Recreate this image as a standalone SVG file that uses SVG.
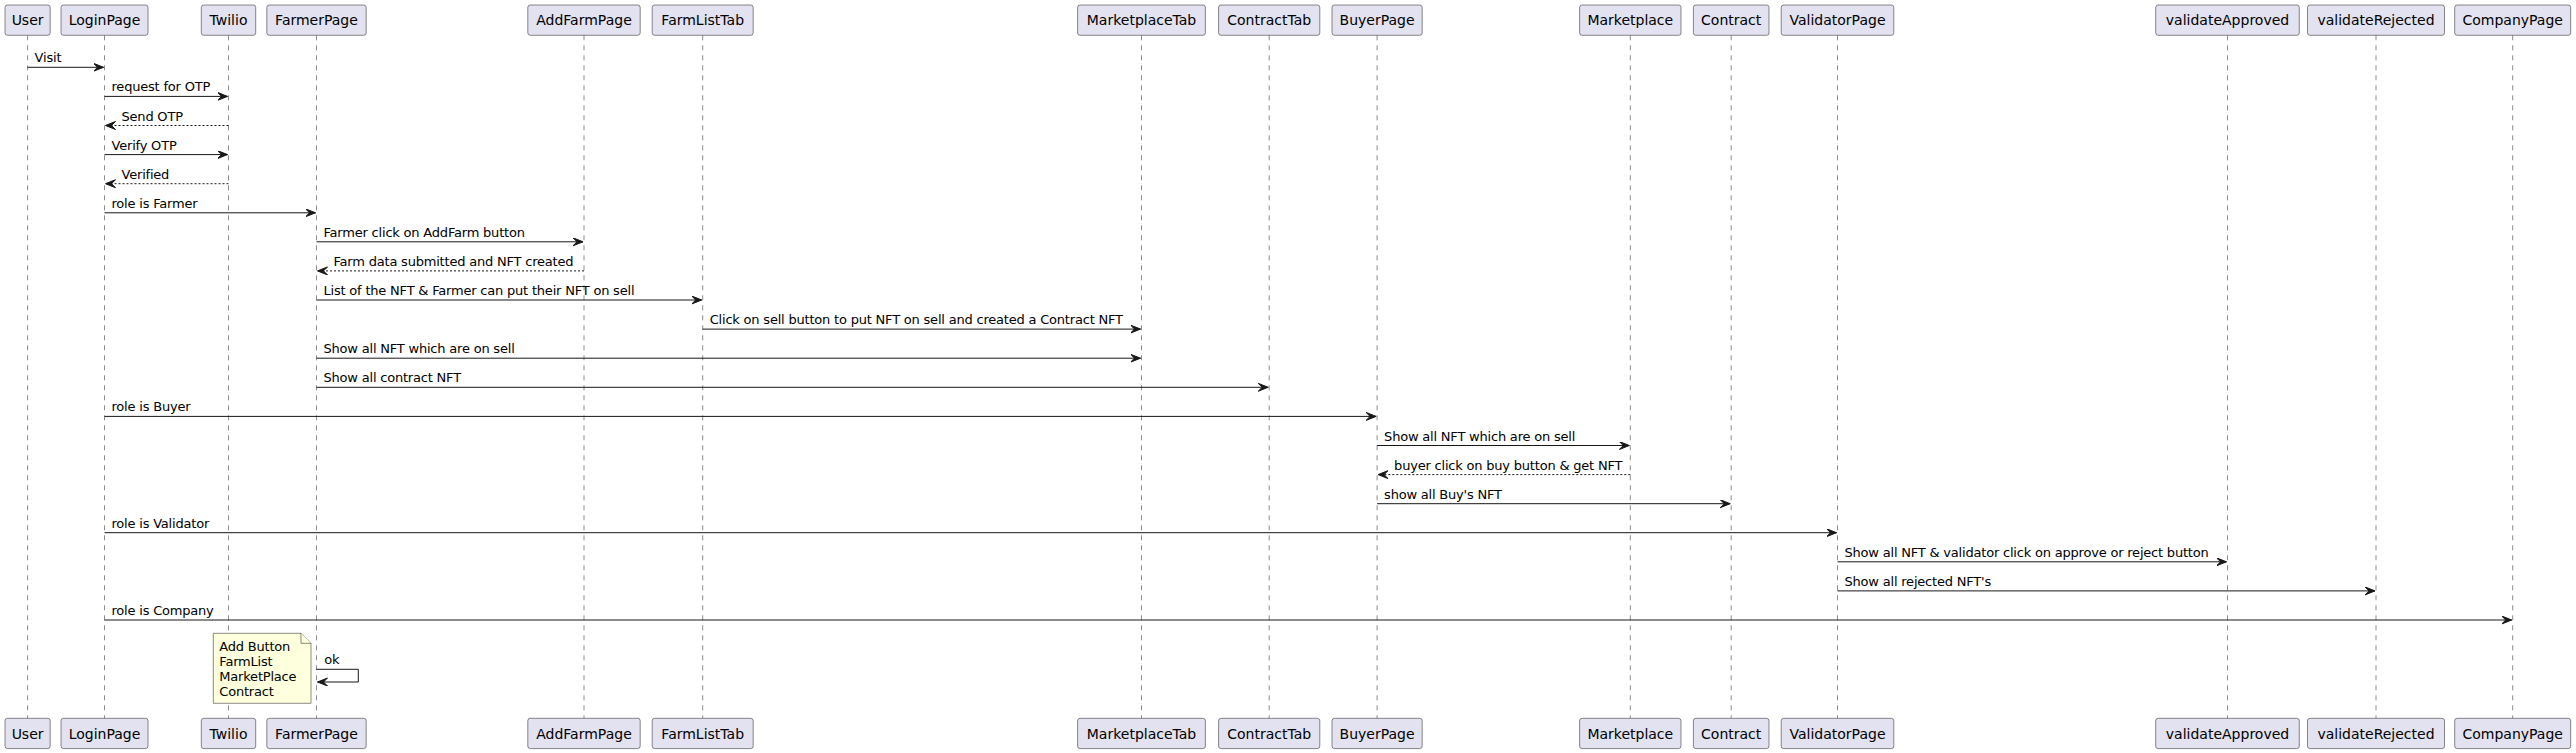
<svg xmlns="http://www.w3.org/2000/svg" width="2576" height="753" viewBox="0 0 2576 753">
<defs>
<style>
.box{fill:#E2E2F0;stroke:#181818;stroke-width:0.5;}
.pt{font-family:"DejaVu Sans",sans-serif;font-size:14px;fill:#000;text-anchor:middle;}
.life{stroke:#181818;stroke-width:0.5;stroke-dasharray:5,5;fill:none;}
.msg{stroke:#181818;stroke-width:1;fill:none;marker-end:url(#ah);}
.ret{stroke-dasharray:2,2;}
.lbl{font-family:"DejaVu Sans",sans-serif;font-size:13px;letter-spacing:-0.2px;fill:#000;}
.note{fill:#FEFFDD;stroke:#181818;stroke-width:0.5;}
</style>
<marker id="ah" markerUnits="userSpaceOnUse" markerWidth="11" markerHeight="9" refX="10" refY="4" orient="auto" viewBox="0 0 11 9">
<path d="M0,0 L10,4 L0,8 L4,4 Z" fill="#181818" stroke="#181818" stroke-width="1"/>
</marker>
</defs>
<rect width="2576" height="753" fill="#FFFFFF"/>

<g id="lifelines">
<line class="life" x1="27.6" y1="35.3" x2="27.6" y2="718.3"/>
<line class="life" x1="104.5" y1="35.3" x2="104.5" y2="718.3"/>
<line class="life" x1="228.5" y1="35.3" x2="228.5" y2="718.3"/>
<line class="life" x1="316.5" y1="35.3" x2="316.5" y2="718.3"/>
<line class="life" x1="584" y1="35.3" x2="584" y2="718.3"/>
<line class="life" x1="702.7" y1="35.3" x2="702.7" y2="718.3"/>
<line class="life" x1="1141.5" y1="35.3" x2="1141.5" y2="718.3"/>
<line class="life" x1="1269.2" y1="35.3" x2="1269.2" y2="718.3"/>
<line class="life" x1="1377.1" y1="35.3" x2="1377.1" y2="718.3"/>
<line class="life" x1="1630.3" y1="35.3" x2="1630.3" y2="718.3"/>
<line class="life" x1="1731.2" y1="35.3" x2="1731.2" y2="718.3"/>
<line class="life" x1="1837.5" y1="35.3" x2="1837.5" y2="718.3"/>
<line class="life" x1="2227.5" y1="35.3" x2="2227.5" y2="718.3"/>
<line class="life" x1="2376" y1="35.3" x2="2376" y2="718.3"/>
<line class="life" x1="2512.7" y1="35.3" x2="2512.7" y2="718.3"/>
</g>

<g id="User"><rect class="box" x="5" y="5" width="45.2" height="30.3" rx="2.5"/><text class="pt" x="27.6" y="25.3">User</text><rect class="box" x="5" y="718.3" width="45.2" height="30.3" rx="2.5"/><text class="pt" x="27.6" y="738.6">User</text></g>
<g id="LoginPage"><rect class="box" x="61" y="5" width="87" height="30.3" rx="2.5"/><text class="pt" x="104.5" y="25.3">LoginPage</text><rect class="box" x="61" y="718.3" width="87" height="30.3" rx="2.5"/><text class="pt" x="104.5" y="738.6">LoginPage</text></g>
<g id="Twilio"><rect class="box" x="201.3" y="5" width="54.4" height="30.3" rx="2.5"/><text class="pt" x="228.5" y="25.3">Twilio</text><rect class="box" x="201.3" y="718.3" width="54.4" height="30.3" rx="2.5"/><text class="pt" x="228.5" y="738.6">Twilio</text></g>
<g id="FarmerPage"><rect class="box" x="266.8" y="5" width="99.4" height="30.3" rx="2.5"/><text class="pt" x="316.5" y="25.3">FarmerPage</text><rect class="box" x="266.8" y="718.3" width="99.4" height="30.3" rx="2.5"/><text class="pt" x="316.5" y="738.6">FarmerPage</text></g>
<g id="AddFarmPage"><rect class="box" x="527.8" y="5" width="112.4" height="30.3" rx="2.5"/><text class="pt" x="584" y="25.3">AddFarmPage</text><rect class="box" x="527.8" y="718.3" width="112.4" height="30.3" rx="2.5"/><text class="pt" x="584" y="738.6">AddFarmPage</text></g>
<g id="FarmListTab"><rect class="box" x="652.2" y="5" width="101" height="30.3" rx="2.5"/><text class="pt" x="702.7" y="25.3">FarmListTab</text><rect class="box" x="652.2" y="718.3" width="101" height="30.3" rx="2.5"/><text class="pt" x="702.7" y="738.6">FarmListTab</text></g>
<g id="MarketplaceTab"><rect class="box" x="1077.6" y="5" width="127.8" height="30.3" rx="2.5"/><text class="pt" x="1141.5" y="25.3">MarketplaceTab</text><rect class="box" x="1077.6" y="718.3" width="127.8" height="30.3" rx="2.5"/><text class="pt" x="1141.5" y="738.6">MarketplaceTab</text></g>
<g id="ContractTab"><rect class="box" x="1218.6" y="5" width="101.2" height="30.3" rx="2.5"/><text class="pt" x="1269.2" y="25.3">ContractTab</text><rect class="box" x="1218.6" y="718.3" width="101.2" height="30.3" rx="2.5"/><text class="pt" x="1269.2" y="738.6">ContractTab</text></g>
<g id="BuyerPage"><rect class="box" x="1332" y="5" width="90.2" height="30.3" rx="2.5"/><text class="pt" x="1377.1" y="25.3">BuyerPage</text><rect class="box" x="1332" y="718.3" width="90.2" height="30.3" rx="2.5"/><text class="pt" x="1377.1" y="738.6">BuyerPage</text></g>
<g id="Marketplace"><rect class="box" x="1579.6" y="5" width="101.4" height="30.3" rx="2.5"/><text class="pt" x="1630.3" y="25.3">Marketplace</text><rect class="box" x="1579.6" y="718.3" width="101.4" height="30.3" rx="2.5"/><text class="pt" x="1630.3" y="738.6">Marketplace</text></g>
<g id="Contract"><rect class="box" x="1693.4" y="5" width="75.6" height="30.3" rx="2.5"/><text class="pt" x="1731.2" y="25.3">Contract</text><rect class="box" x="1693.4" y="718.3" width="75.6" height="30.3" rx="2.5"/><text class="pt" x="1731.2" y="738.6">Contract</text></g>
<g id="ValidatorPage"><rect class="box" x="1781.2" y="5" width="112.6" height="30.3" rx="2.5"/><text class="pt" x="1837.5" y="25.3">ValidatorPage</text><rect class="box" x="1781.2" y="718.3" width="112.6" height="30.3" rx="2.5"/><text class="pt" x="1837.5" y="738.6">ValidatorPage</text></g>
<g id="validateApproved"><rect class="box" x="2155.7" y="5" width="143.6" height="30.3" rx="2.5"/><text class="pt" x="2227.5" y="25.3">validateApproved</text><rect class="box" x="2155.7" y="718.3" width="143.6" height="30.3" rx="2.5"/><text class="pt" x="2227.5" y="738.6">validateApproved</text></g>
<g id="validateRejected"><rect class="box" x="2307.5" y="5" width="137" height="30.3" rx="2.5"/><text class="pt" x="2376" y="25.3">validateRejected</text><rect class="box" x="2307.5" y="718.3" width="137" height="30.3" rx="2.5"/><text class="pt" x="2376" y="738.6">validateRejected</text></g>
<g id="CompanyPage"><rect class="box" x="2454.7" y="5" width="116" height="30.3" rx="2.5"/><text class="pt" x="2512.7" y="25.3">CompanyPage</text><rect class="box" x="2454.7" y="718.3" width="116" height="30.3" rx="2.5"/><text class="pt" x="2512.7" y="738.6">CompanyPage</text></g>

<g id="note">
<path class="note" d="M213.3,633.3 L301,633.3 L311,643.3 L311,703.3 L213.3,703.3 Z"/>
<path class="note" d="M301,633.3 L301,643.3 L311,643.3" fill="none"/>
<text class="lbl" x="219.3" y="650.5">Add Button</text>
<text class="lbl" x="219.3" y="665.6">FarmList</text>
<text class="lbl" x="219.3" y="680.7">MarketPlace</text>
<text class="lbl" x="219.3" y="695.8">Contract</text>
</g>

<g id="connectors">
<line class="msg" x1="27.6" y1="67.3" x2="103.5" y2="67.3"/><text class="lbl" x="34.6" y="62.3">Visit</text>
<line class="msg" x1="104.5" y1="96.4" x2="227.5" y2="96.4"/><text class="lbl" x="111.5" y="91.4">request for OTP</text>
<line class="msg ret" x1="228.5" y1="125.5" x2="105.5" y2="125.5"/><text class="lbl" x="121.5" y="120.5">Send OTP</text>
<line class="msg" x1="104.5" y1="154.6" x2="227.5" y2="154.6"/><text class="lbl" x="111.5" y="149.6">Verify OTP</text>
<line class="msg ret" x1="228.5" y1="183.7" x2="105.5" y2="183.7"/><text class="lbl" x="121.5" y="178.7">Verified</text>
<line class="msg" x1="104.5" y1="212.8" x2="315.5" y2="212.8"/><text class="lbl" x="111.5" y="207.8">role is Farmer</text>
<line class="msg" x1="316.5" y1="241.8" x2="583" y2="241.8"/><text class="lbl" x="323.5" y="236.8">Farmer click on AddFarm button</text>
<line class="msg ret" x1="584" y1="270.9" x2="317.5" y2="270.9"/><text class="lbl" x="333.5" y="265.9">Farm data submitted and NFT created</text>
<line class="msg" x1="316.5" y1="300" x2="701.7" y2="300"/><text class="lbl" x="323.5" y="295">List of the NFT &amp; Farmer can put their NFT on sell</text>
<line class="msg" x1="702.7" y1="329.1" x2="1140.5" y2="329.1"/><text class="lbl" x="709.7" y="324.1">Click on sell button to put NFT on sell and created a Contract NFT</text>
<line class="msg" x1="316.5" y1="358.2" x2="1140.5" y2="358.2"/><text class="lbl" x="323.5" y="353.2">Show all NFT which are on sell</text>
<line class="msg" x1="316.5" y1="387.3" x2="1268.2" y2="387.3"/><text class="lbl" x="323.5" y="382.3">Show all contract NFT</text>
<line class="msg" x1="104.5" y1="416.4" x2="1376.1" y2="416.4"/><text class="lbl" x="111.5" y="411.4">role is Buyer</text>
<line class="msg" x1="1377.1" y1="445.5" x2="1629.3" y2="445.5"/><text class="lbl" x="1384.1" y="440.5">Show all NFT which are on sell</text>
<line class="msg ret" x1="1630.3" y1="474.6" x2="1378.1" y2="474.6"/><text class="lbl" x="1394.1" y="469.6">buyer click on buy button &amp; get NFT</text>
<line class="msg" x1="1377.1" y1="503.7" x2="1730.2" y2="503.7"/><text class="lbl" x="1384.1" y="498.7">show all Buy's NFT</text>
<line class="msg" x1="104.5" y1="532.7" x2="1836.5" y2="532.7"/><text class="lbl" x="111.5" y="527.7">role is Validator</text>
<line class="msg" x1="1837.5" y1="561.8" x2="2226.5" y2="561.8"/><text class="lbl" x="1844.5" y="556.8">Show all NFT &amp; validator click on approve or reject button</text>
<line class="msg" x1="1837.5" y1="590.9" x2="2375" y2="590.9"/><text class="lbl" x="1844.5" y="585.9">Show all rejected NFT's</text>
<line class="msg" x1="104.5" y1="620" x2="2511.7" y2="620"/><text class="lbl" x="111.5" y="615">role is Company</text>
<path class="msg" d="M316.5,669.3 H358.3 V682 H317.5"/><text class="lbl" x="324.3" y="664.3">ok</text>
</g>
</svg>
